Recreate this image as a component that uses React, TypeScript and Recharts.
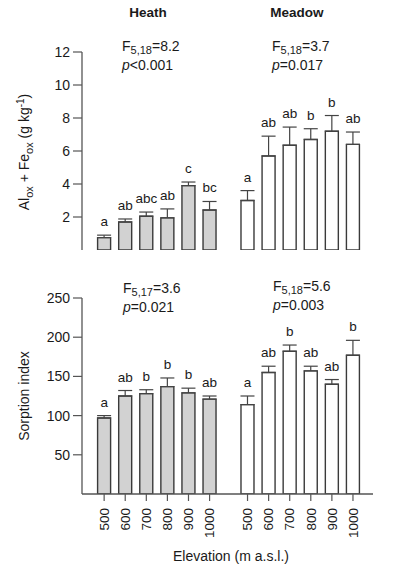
import React from 'react';
import {
	ComposedChart,
	Bar,
	Cell,
	ErrorBar,
	Line,
	LabelList,
	XAxis,
	YAxis,
} from 'recharts';

const elevations = ['500', '600', '700', '800', '900', '1000'];

// Al_ox + Fe_ox (g kg-1)
const heathOxMean = [0.75, 1.7, 2.05, 1.95, 3.9, 2.42];
const heathOxSe = [0.15, 0.18, 0.25, 0.54, 0.22, 0.52];
const heathOxLetters = ['a', 'ab', 'abc', 'ab', 'c', 'bc'];
const meadowOxMean = [3.0, 5.7, 6.35, 6.7, 7.2, 6.4];
const meadowOxSe = [0.6, 1.2, 1.1, 0.65, 0.95, 0.75];
const meadowOxLetters = ['a', 'ab', 'ab', 'b', 'b', 'ab'];

// Sorption index
const heathSorpMean = [97, 125, 128, 137, 129, 121];
const heathSorpSe = [3, 7, 5, 11, 6, 4];
const heathSorpLetters = ['a', 'ab', 'b', 'b', 'b', 'ab'];
const meadowSorpMean = [114, 155, 182, 157, 140, 177];
const meadowSorpSe = [11, 8, 8, 6, 6, 19];
const meadowSorpLetters = ['a', 'ab', 'b', 'ab', 'ab', 'b'];

const oxTicks = [2, 4, 6, 8, 10, 12];
const sorpTicks = [50, 100, 150, 200, 250];

// gap between the two sites, in category slots
const MEADOW_OFFSET = 6.8;
const X_DOMAIN = [-1.05, 12.75];

const FONT = '"Liberation Sans", Arial, sans-serif';
const AXIS = '#555';
const INK = '#1a1a1a';

const buildRows = (
	hMean: number[], hSe: number[], hLet: string[],
	mMean: number[], mSe: number[], mLet: string[]
) => [
	...hMean.map((m, i) => ({
		pos: i, elev: elevations[i], mean: m, err: [0, hSe[i]],
		top: m + hSe[i], letter: hLet[i], site: 'heath',
	})),
	...mMean.map((m, i) => ({
		pos: i + MEADOW_OFFSET, elev: elevations[i], mean: m, err: [0, mSe[i]],
		top: m + mSe[i], letter: mLet[i], site: 'meadow',
	})),
];

const oxRows = buildRows(heathOxMean, heathOxSe, heathOxLetters, meadowOxMean, meadowOxSe, meadowOxLetters);
const sorpRows = buildRows(heathSorpMean, heathSorpSe, heathSorpLetters, meadowSorpMean, meadowSorpSe, meadowSorpLetters);

const ElevTick = (props: any) => {
	const { x, y, index } = props;
	return (
		<g transform={`translate(${x},${y})`}>
			<text
				transform='rotate(-90)'
				x={-5}
				dy='0.35em'
				textAnchor='end'
				fill={INK}
				fontSize={13.5}
				fontFamily={FONT}
			>
				{sorpRows[index]?.elev}
			</text>
		</g>
	);
};

const Panel = ({ rows, domain, ticks, height, margin, showX }: any) => (
	<ComposedChart width={397} height={height} data={rows} margin={margin}>
		<XAxis
			type='number'
			dataKey='pos'
			domain={X_DOMAIN}
			ticks={showX ? rows.map((r: any) => r.pos) : []}
			allowDataOverflow
			height={showX ? 60 : 0}
			axisLine={{ stroke: AXIS, strokeWidth: 1.3 }}
			tickLine={showX ? { stroke: AXIS, strokeWidth: 1.2 } : false}
			tickSize={7}
			tick={showX ? <ElevTick /> : false}
			interval={0}
		/>
		<YAxis
			type='number'
			domain={domain}
			ticks={ticks}
			width={50}
			allowDataOverflow
			axisLine={{ stroke: AXIS, strokeWidth: 1.3 }}
			tickLine={{ stroke: AXIS, strokeWidth: 1.2 }}
			tickSize={9}
			tickMargin={3}
			tick={{ fill: INK, fontSize: 14, fontFamily: FONT }}
		/>
		<Bar dataKey='mean' barSize={13} stroke='#3a3a3a' strokeWidth={1.4} isAnimationActive={false}>
			{rows.map((r: any) => (
				<Cell key={`${r.site}-${r.elev}`} fill={r.site === 'heath' ? '#d2d2d2' : '#ffffff'} />
			))}
			<ErrorBar dataKey='err' direction='y' width={7} stroke='#444' strokeWidth={1.2} />
		</Bar>
		<Line dataKey='top' stroke='none' dot={false} activeDot={false} isAnimationActive={false}>
			<LabelList dataKey='letter' position='top' offset={9} fill={INK} fontSize={13.5} fontFamily={FONT} />
		</Line>
	</ComposedChart>
);

const Stat = ({ x, y, df, f, p }: any) => (
	<g fontFamily={FONT} fill={INK}>
		<text x={x} y={y} fontSize={14}>
			F<tspan fontSize={11} dy={3}>{df}</tspan>
			<tspan dy={-3}>={f}</tspan>
		</text>
		<text x={x} y={y + 19} fontSize={14}>
			<tspan fontStyle='italic'>p</tspan>
			{p}
		</text>
	</g>
);

export default function App() {
	return (
		<div style={{ position: 'absolute', left: 0, top: 0, width: 397, height: 567, background: '#fff' }}>
			<div style={{ position: 'absolute', left: 0, top: 0 }}>
				<Panel
					rows={oxRows}
					domain={[0, 12]}
					ticks={oxTicks}
					height={262}
					margin={{ top: 52, right: 24, bottom: 12, left: 32 }}
					showX={false}
				/>
			</div>
			<div style={{ position: 'absolute', left: 0, top: 280 }}>
				<Panel
					rows={sorpRows}
					domain={[0, 250]}
					ticks={sorpTicks}
					height={287}
					margin={{ top: 18, right: 24, bottom: 13, left: 32 }}
					showX
				/>
			</div>
			<svg
				width={397}
				height={567}
				style={{ position: 'absolute', left: 0, top: 0, pointerEvents: 'none' }}
			>
				<g fontFamily={FONT} fill={INK}>
					<text x={148} y={17} fontSize={13.5} fontWeight='bold' textAnchor='middle'>Heath</text>
					<text x={297} y={17} fontSize={13.5} fontWeight='bold' textAnchor='middle'>Meadow</text>
					<text transform='translate(29,152) rotate(-90)' fontSize={14} textAnchor='middle'>
						Al<tspan fontSize={11} dy={4}>ox</tspan>
						<tspan dy={-4}> + Fe</tspan>
						<tspan fontSize={11} dy={4}>ox</tspan>
						<tspan dy={-4}> (g kg</tspan>
						<tspan fontSize={10} dy={-5}>-1</tspan>
						<tspan dy={5}>)</tspan>
					</text>
					<text transform='translate(29,396) rotate(-90)' fontSize={14} textAnchor='middle'>
						Sorption index
					</text>
					<text x={231} y={561} fontSize={14} textAnchor='middle'>Elevation (m a.s.l.)</text>
				</g>
				<Stat x={122} y={51} df='5,18' f='8.2' p='<0.001' />
				<Stat x={272} y={51} df='5,18' f='3.7' p='=0.017' />
				<Stat x={123} y={293} df='5,17' f='3.6' p='=0.021' />
				<Stat x={273} y={291} df='5,18' f='5.6' p='=0.003' />
			</svg>
		</div>
	);
}
